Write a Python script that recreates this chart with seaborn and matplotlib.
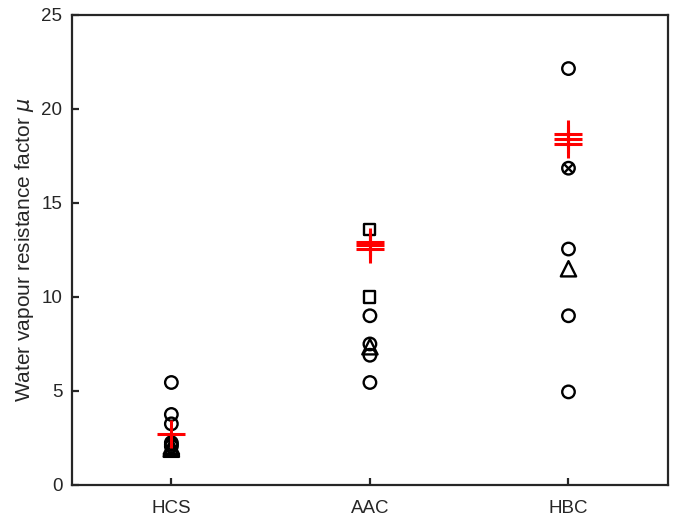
import matplotlib
matplotlib.use("Agg")
import matplotlib.pyplot as plt
import pandas as pd
import seaborn as sns

sns.set_theme(style="white")
plt.rcParams["font.family"] = ["Liberation Sans", "DejaVu Sans"]

INK = "#262626"

# categories on the x axis
groups = ["HCS", "AAC", "HBC"]

# measured values per group and marker
circle_vals = {
    "HCS": [5.45, 3.75, 3.25, 2.25, 2.15, 2.05],
    "AAC": [9.0, 7.5, 6.9, 5.45],
    "HBC": [22.15, 16.85, 12.55, 9.0, 4.95],
}
triangle_vals = {
    "HCS": [2.05, 1.95, 1.9],
    "AAC": [7.35],
    "HBC": [11.5],
}
square_vals = {
    "AAC": [13.6, 10.0],
}
cross_vals = {
    "HBC": [16.85],
}
mean_vals = {
    "HCS": [2.7],
    "AAC": [12.95, 12.75, 12.55],
    "HBC": [18.65, 18.4, 18.15],
}


def to_frame(vals: dict) -> pd.DataFrame:
    rows = [(groups.index(g), v) for g, vs in vals.items() for v in vs]
    return pd.DataFrame(rows, columns=["pos", "value"])


fig, ax = plt.subplots(figsize=(6.8, 5.17), dpi=100)
fig.subplots_adjust(left=0.106, right=0.982, bottom=0.062, top=0.971)

sns.scatterplot(data=to_frame(circle_vals), x="pos", y="value", ax=ax,
                marker="o", s=9 ** 2, facecolors="none", edgecolor="black", linewidth=1.7)
sns.scatterplot(data=to_frame(triangle_vals), x="pos", y="value", ax=ax,
                marker="^", s=11 ** 2, facecolors="none", edgecolor="black", linewidth=1.7)
sns.scatterplot(data=to_frame(square_vals), x="pos", y="value", ax=ax,
                marker="s", s=8 ** 2, facecolors="none", edgecolor="black", linewidth=1.7)
sns.scatterplot(data=to_frame(cross_vals), x="pos", y="value", ax=ax,
                marker="x", s=6 ** 2, color="black", linewidth=1.7)
sns.scatterplot(data=to_frame(mean_vals), x="pos", y="value", ax=ax,
                marker="+", s=20 ** 2, color="red", linewidth=2.2, zorder=5)

ax.set_xlim(-0.5, len(groups) - 0.5)
ax.set_ylim(0, 25)
ax.set_xticks(range(len(groups)))
ax.set_xticklabels(groups)
ax.set_yticks([0, 5, 10, 15, 20, 25])
ax.set_xlabel("")
ax.set_ylabel(r"Water vapour resistance factor $\mu$", fontsize=15, color=INK, labelpad=4)

for side in ["left", "right", "top", "bottom"]:
    ax.spines[side].set_visible(True)
    ax.spines[side].set_color(INK)
    ax.spines[side].set_linewidth(1.6)
ax.tick_params(axis="both", direction="in", length=5, width=1.6, colors=INK,
               labelsize=13.5, labelcolor=INK, left=True, bottom=True)
ax.tick_params(axis="x", pad=11)
ax.tick_params(axis="y", pad=7)
ax.grid(False)

plt.savefig("out.png", dpi=100)
plt.close()
